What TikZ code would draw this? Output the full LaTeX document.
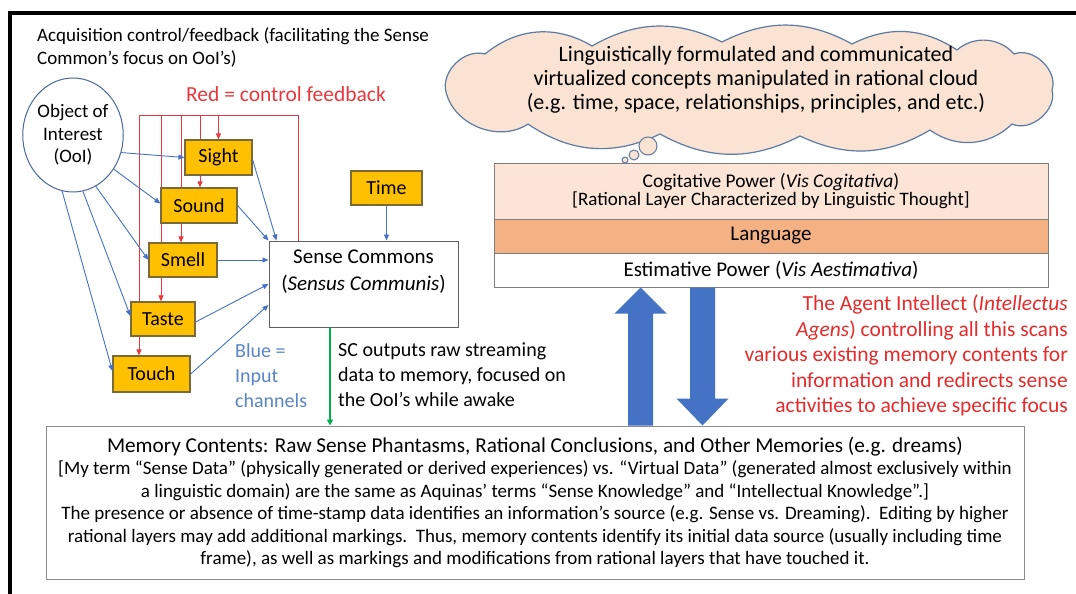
\documentclass[tikz,border=0pt]{standalone}
\usepackage{fontspec}
\setmainfont{Carlito}
\usetikzlibrary{arrows.meta,shapes.geometric,calc}
\pgfdeclarelayer{bg}
\pgfsetlayers{bg,main}
\newcommand{\setfs}[2]{\fontsize{#1}{#2}\selectfont}
\definecolor{gold}{HTML}{FFC000}
\definecolor{senseborder}{HTML}{7A6A3A}
\definecolor{inblue}{HTML}{4472C4}
\definecolor{bluetxt}{HTML}{5B84C8}
\definecolor{fbred}{HTML}{E8383D}
\definecolor{agentred}{HTML}{E52B2B}
\definecolor{cloudfill}{HTML}{FBE3D3}
\definecolor{cloudborder}{HTML}{5C7AA6}
\definecolor{cogfill}{HTML}{FCE4D6}
\definecolor{langfill}{HTML}{F4B183}
\definecolor{boxgray}{HTML}{7F7F7F}
\definecolor{memgray}{HTML}{8C8C8C}
\definecolor{ellblue}{HTML}{4A6898}
\definecolor{outgreen}{HTML}{00B050}
\definecolor{scgray}{HTML}{606060}
\begin{document}
\begin{tikzpicture}[x=1pt,y=-1pt,
  sense/.style={draw=senseborder, fill=gold, line width=1.2pt, font=\setfs{20}{24}, inner sep=0pt, minimum height=35pt},
  blueline/.style={draw=inblue, line width=0.9pt, -{Triangle[length=6pt,width=5pt]}},
  redline/.style={draw=fbred, line width=1pt},
  redarrow/.style={redline, -{Triangle[length=6pt,width=5pt]}},
  layerbox/.style={draw=boxgray, line width=1pt, minimum width=554pt, inner sep=0pt, align=center},
  bubble/.style={circle, draw=cloudborder, fill=cloudfill, line width=1pt, inner sep=0pt},
  cloudline/.style={draw=cloudborder, fill=cloudfill, line width=1.2pt, line join=round}
]
\useasboundingbox (0,0) rectangle (1076,594);
\begin{pgfonlayer}{bg}
\fill[white] (0,0) rectangle (1076,594);
\end{pgfonlayer}
% outer frame
\draw[line width=3.2pt] (10,600) -- (10,13) -- (1080,13);

% title
\node[anchor=north west, align=left, font=\setfs{19}{23}, inner sep=0pt] (title) at (37,27)
  {Acquisition control/feedback (facilitating the Sense\\Common’s focus on OoI’s)};

% object of interest
\node[ellipse, draw=ellblue, fill=white, line width=1pt, minimum width=97pt, minimum height=114pt,
  inner sep=0pt, align=center, font=\setfs{19}{22.5}] (ooi) at (73,135) {Object of\\Interest\\(OoI)};

\node[text=fbred, font=\setfs{21.5}{25}, inner sep=0pt] (redlbl) at (286,94) {Red = control feedback};

% senses
\node[sense, minimum width=67pt] (sight) at (218.5,157.5) {Sight};
\node[sense, minimum width=76pt] (sound) at (199,205.5) {Sound};
\node[sense, minimum width=68pt, minimum height=34pt] (smell) at (183,260) {Smell};
\node[sense, minimum width=64pt, minimum height=34pt] (taste) at (163,319) {Taste};
\node[sense, minimum width=77pt, minimum height=36pt] (touch) at (151.5,374) {Touch};
\node[sense, minimum width=71pt, minimum height=34pt] (time) at (386.5,188) {Time};

% sense commons
\node[draw=scgray, fill=white, line width=1pt, minimum width=189pt, minimum height=86pt,
  align=center, font=\setfs{21}{27}, inner sep=0pt] (sc) at (363.5,284)
  {Sense Commons\\(\textit{Sensus Communis})\\\mbox{}};

% red feedback lines (behind boxes)
\coordinate (fbtop) at (298,115);
\coordinate (r1) at (139,115);
\coordinate (r2) at (161,115);
\coordinate (r3) at (181,115);
\coordinate (r4) at (200,115);
\coordinate (r5) at (218.5,115);
\begin{pgfonlayer}{bg}
\draw[redline] (sc.north -| fbtop) -- (fbtop) -- (r1);
\draw[redarrow] (r5) -- (sight.north);
\draw[redarrow] (r4) -- (sound.north -| r4);
\draw[redarrow] (r3) -- (smell.north -| r3);
\draw[redarrow] (r2) -- (taste.north -| r2);
\draw[redarrow] (r1) -- (touch.north -| r1);
\end{pgfonlayer}

% blue input lines
\draw[blueline] (ooi.-20) -- (sight.west);
\draw[blueline] (ooi.-40) -- ([yshift=2pt]sound.west);
\draw[blueline] (ooi.-66) -- (smell.west);
\draw[blueline] (ooi.-80) -- ([yshift=3pt]taste.west);
\draw[blueline] (ooi.-101) -- ([yshift=3pt]touch.west);
\draw[blueline] ([yshift=-2pt]sight.east) -- ([xshift=8pt]sc.north west);
\draw[blueline] (sound.east) -- (sc.north west);
\draw[blueline] (smell.east) -- (sc.west |- smell.east);
\draw[blueline] ([yshift=-3pt]taste.east) -- (sc.west);
\draw[blueline] (touch.east) -- ([yshift=-21pt]sc.west);
\draw[blueline] (time.south) -- (time.south |- sc.north);

\node[anchor=north west, align=left, text=bluetxt, font=\setfs{20}{25}, inner sep=0pt] (bluelbl) at (235,343)
  {Blue =\\Input\\channels};
\node[anchor=north west, align=left, font=\setfs{20}{25}, inner sep=0pt] (sclbl) at (338,343)
  {SC outputs raw streaming\\data to memory, focused on\\the OoI’s while awake};

% cloud
\coordinate (p0) at (446,92);
\coordinate (p1) at (485,54);
\coordinate (p2) at (592,46);
\coordinate (p3) at (722,42);
\coordinate (p4) at (852,44);
\coordinate (p5) at (957,50);
\coordinate (p6) at (1014,54);
\coordinate (p7) at (1052,90);
\coordinate (p8) at (1012,124);
\coordinate (p9) at (930,130);
\coordinate (p10) at (800,136);
\coordinate (p11) at (660,134);
\coordinate (p12) at (528,124);
\draw[cloudline] (p0) to[bend left=60] (p1) to[bend left=35] (p2) to[bend left=28] (p3) to[bend left=28] (p4)
  to[bend left=30] (p5) to[bend left=45] (p6) to[bend left=65] (p7) to[bend left=65] (p8) to[bend left=40] (p9)
  to[bend left=28] (p10) to[bend left=28] (p11) to[bend left=30] (p12) to[bend left=55] (p0) -- cycle;
\node[align=center, font=\setfs{22}{24}, inner sep=0pt] (cloudtxt) at (756,80)
  {Linguistically formulated and communicated\\virtualized concepts manipulated in rational cloud\\(e.g. time, space, relationships, principles, and etc.)};
\node[bubble, minimum size=18pt] (b1) at (648,146) {};
\node[bubble, minimum size=10pt] (b2) at (634,155) {};
\node[bubble, minimum size=6pt] (b3) at (625,160) {};

% layers
\node[layerbox, fill=cogfill, minimum height=56pt] (cog) at (771,191)
  {{\setfs{19.4}{22}Cogitative Power (\textit{Vis Cogitativa})}\\{\setfs{19}{22}{[}Rational Layer Characterized by Linguistic Thought]}};
\node[layerbox, fill=langfill, minimum height=34pt, font=\setfs{21}{24}] (lang) at (771,236) {Language};
\node[layerbox, fill=white, minimum height=34pt, font=\setfs{21}{24}] (est) at (771,270)
  {Estimative Power (\textit{Vis Aestimativa})};

% agent intellect text
\node[anchor=north east, align=right, text=agentred, font=\setfs{21.5}{25.5}, inner sep=0pt] (agent) at (1068,295)
  {The Agent Intellect (\textit{Intellectus}\\\textit{Agens}) controlling all this scans\\various existing memory contents for\\information and redirects sense\\activities to achieve specific focus};

% memory
\node[draw=memgray, fill=white, line width=1pt, minimum width=978pt, minimum height=153pt, align=center,
  font=\setfs{19}{22.5}, inner sep=0pt] (mem) at (535,502.5)
  {{\setfs{21.2}{22.5}Memory Contents: Raw Sense Phantasms, Rational Conclusions, and Other Memories (e.g. dreams)}\\
   {[}My term “Sense Data” (physically generated or derived experiences) vs. “Virtual Data” (generated almost exclusively within\\
   a linguistic domain) are the same as Aquinas’ terms “Sense Knowledge” and “Intellectual Knowledge”.]\\
   The presence or absence of time-stamp data identifies an information’s source (e.g. Sense vs. Dreaming).\ \ Editing by higher\\
   rational layers may add additional markings.\ \ Thus, memory contents identify its initial data source (usually including time\\
   frame), as well as markings and modifications from rational layers that have touched it.};

% green output arrow
\coordinate (gx) at (330,0);
\draw[draw=outgreen, line width=1.5pt, -{Triangle[length=6pt,width=6pt]}] (sc.south -| gx) -- (mem.north -| gx);

% big block arrows
\coordinate (upx) at (640.5,0);
\coordinate (dnx) at (702.5,0);
\coordinate (ua) at (mem.north -| upx);
\coordinate (ub) at (est.south -| upx);
\coordinate (dc) at (est.south -| dnx);
\coordinate (dd) at (mem.north -| dnx);
\fill[inblue] ($(ua)+(-12.5,0)$) -- ($(ub)+(-12.5,26)$) -- ($(ub)+(-26,26)$) -- (ub) -- ($(ub)+(26,26)$) -- ($(ub)+(12.5,26)$) -- ($(ua)+(12.5,0)$) -- cycle;
\fill[inblue] ($(dc)+(-12.5,0)$) -- ($(dd)+(-12.5,-27)$) -- ($(dd)+(-26,-27)$) -- (dd) -- ($(dd)+(26,-27)$) -- ($(dd)+(12.5,-27)$) -- ($(dc)+(12.5,0)$) -- cycle;
\end{tikzpicture}
\end{document}
